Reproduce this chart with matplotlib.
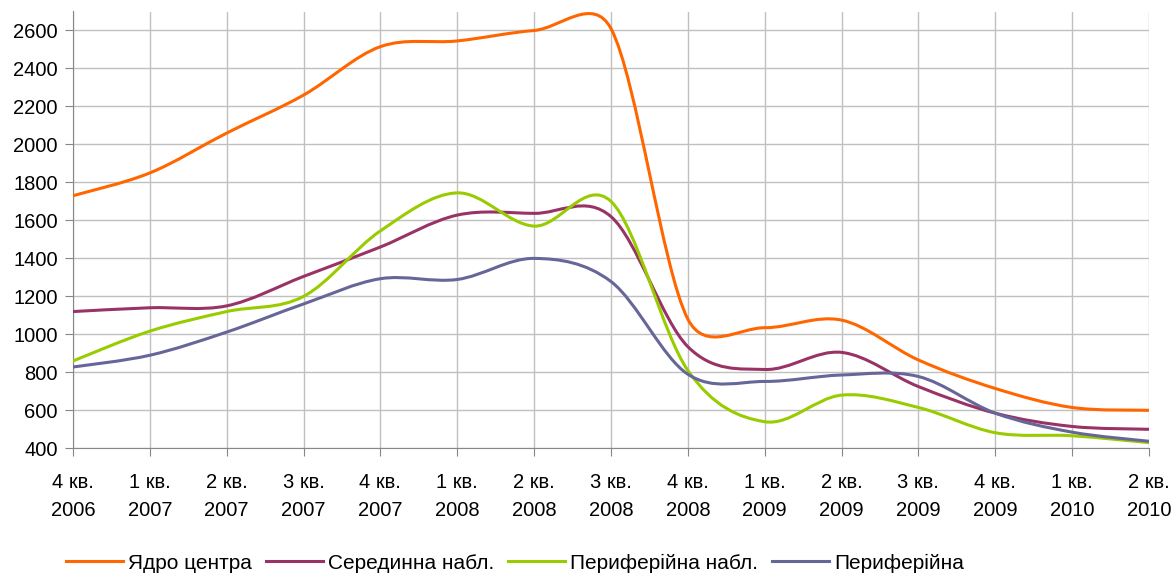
import numpy as np
import matplotlib.pyplot as plt
from matplotlib.path import Path
from matplotlib.patches import PathPatch
from matplotlib.lines import Line2D

plt.rcParams['font.family'] = ['Liberation Sans', 'DejaVu Sans']

quarters = ['4 кв.\n2006', '1 кв.\n2007', '2 кв.\n2007', '3 кв.\n2007', '4 кв.\n2007',
            '1 кв.\n2008', '2 кв.\n2008', '3 кв.\n2008', '4 кв.\n2008', '1 кв.\n2009',
            '2 кв.\n2009', '3 кв.\n2009', '4 кв.\n2009', '1 кв.\n2010', '2 кв.\n2010']

core = [1730, 1850, 2060, 2260, 2515, 2545, 2600, 2610, 1080, 1035, 1075, 865, 715, 615, 600]
middle = [1120, 1140, 1150, 1305, 1460, 1628, 1637, 1620, 935, 815, 905, 725, 585, 515, 500]
periph_near = [860, 1017, 1120, 1200, 1545, 1745, 1570, 1700, 810, 540, 680, 615, 482, 466, 430]
periph = [828, 890, 1012, 1160, 1293, 1289, 1400, 1278, 790, 752, 786, 778, 585, 485, 437]

names = ['Ядро центра', 'Серединна набл.', 'Периферійна набл.', 'Периферійна']
colors = ['#FF6600', '#993366', '#99CC00', '#666699']

fig = plt.figure(figsize=(11.74, 5.74), dpi=100)
ax = fig.add_axes([73/1174, 1-448.3/574, (1149-73)/1174, (448.3-11.5)/574])
ax.set_xlim(0, 14)
ax.set_ylim(400, 2700)


# excel-like smoothed line: bezier in screen space, arms clamped to half chord
def smooth_path(xs, ys):
    pts = ax.transData.transform(np.column_stack([xs, ys]))
    n = len(pts)
    verts = [pts[0]]
    codes = [Path.MOVETO]
    for i in range(n - 1):
        p1, p2 = pts[i], pts[i + 1]
        p0 = pts[i - 1] if i > 0 else p1
        p3 = pts[i + 2] if i + 2 < n else p2
        half = np.hypot(*(p2 - p1)) / 2
        a1 = (p2 - p0) / 6
        a2 = (p3 - p1) / 6
        l1 = np.hypot(*a1)
        l2 = np.hypot(*a2)
        if l1 > half:
            a1 = a1 * half / l1
        if l2 > half:
            a2 = a2 * half / l2
        verts += [p1 + a1, p2 - a2, p2]
        codes += [Path.CURVE4] * 3
    verts = ax.transData.inverted().transform(np.array(verts))
    return Path(verts, codes)


x = np.arange(len(quarters))
handles = []
for ys, c, nm in zip([core, middle, periph_near, periph], colors, names):
    ax.add_patch(PathPatch(smooth_path(x, ys), fill=False, edgecolor=c, lw=2.2,
                           capstyle='round', joinstyle='round', zorder=3))
    handles.append(Line2D([], [], color=c, lw=2.2))

ax.set_yticks(np.arange(400, 2601, 200))
ax.set_xticks(x)
ax.set_xticklabels(quarters, linespacing=1.55)
ax.grid(True, color='#C0C0C0', lw=1)
ax.set_axisbelow(True)
for s in ['top', 'right']:
    ax.spines[s].set_visible(False)
for s in ['left', 'bottom']:
    ax.spines[s].set_color('#868686')
ax.tick_params(axis='both', colors='#868686', length=6, labelcolor='black', labelsize=14.5)
ax.tick_params(axis='y', pad=5)
ax.tick_params(axis='x', pad=12)

fig.legend(handles, names, loc='center', bbox_to_anchor=(0.4387, 1 - 563/574), ncol=4,
           frameon=False, fontsize=15, handlelength=2.75, handletextpad=0.25,
           columnspacing=0.65)

fig.savefig('out.png', dpi=100)
